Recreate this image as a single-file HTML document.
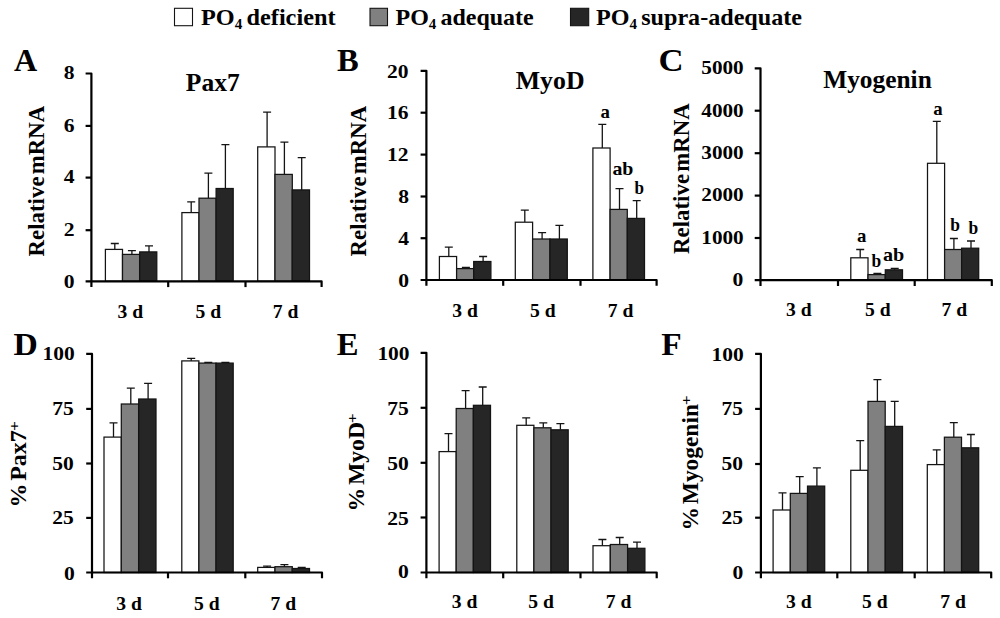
<!DOCTYPE html>
<html lang="en">
<head>
<meta charset="utf-8">
<title>Relative mRNA and percent positive cells: Pax7, MyoD, Myogenin</title>
<style>
html,body{margin:0;padding:0;background:#fff;}
body{width:1000px;height:618px;overflow:hidden;}
svg{display:block;}
svg text{font-family:"Liberation Serif", "DejaVu Serif", serif;font-weight:bold;fill:#000;}
</style>
</head>
<body>
<svg width="1000" height="618" viewBox="0 0 1000 618">
<rect width="1000" height="618" fill="#fff"/>
<rect x="174.5" y="8.3" width="18" height="17.4" fill="#fff" stroke="#141414" stroke-width="1.1"/>
<rect x="370.0" y="8.3" width="17.5" height="17.4" fill="#808080" stroke="#141414" stroke-width="1.1"/>
<rect x="570.5" y="8.3" width="18.2" height="17.4" fill="#262626" stroke="#141414" stroke-width="1.1"/>
<text x="201.0" y="24.8" font-size="24" textLength="134.5" lengthAdjust="spacingAndGlyphs" word-spacing="-1.8">PO<tspan font-size="15" dy="3.9">4</tspan><tspan dy="-3.9"> deficient</tspan></text>
<text x="395.5" y="24.8" font-size="24" textLength="138.2" lengthAdjust="spacingAndGlyphs" word-spacing="-1.8">PO<tspan font-size="15" dy="3.9">4</tspan><tspan dy="-3.9"> adequate</tspan></text>
<text x="596.0" y="24.8" font-size="24" textLength="206.0" lengthAdjust="spacingAndGlyphs" word-spacing="-1.8">PO<tspan font-size="15" dy="3.9">4</tspan><tspan dy="-3.9"> supra-adequate</tspan></text>
<text x="14.1" y="71.0" font-size="31.5" text-anchor="start" textLength="23.2" lengthAdjust="spacingAndGlyphs">A</text>
<text x="337.0" y="71.4" font-size="32" text-anchor="start" textLength="21.7" lengthAdjust="spacingAndGlyphs">B</text>
<text x="658.5" y="71.4" font-size="32" text-anchor="start" textLength="25.1" lengthAdjust="spacingAndGlyphs">C</text>
<text x="13.5" y="354.6" font-size="32" text-anchor="start" textLength="24.3" lengthAdjust="spacingAndGlyphs">D</text>
<text x="336.8" y="354.6" font-size="32" text-anchor="start" textLength="21.8" lengthAdjust="spacingAndGlyphs">E</text>
<text x="661.3" y="354.6" font-size="32" text-anchor="start" textLength="20.4" lengthAdjust="spacingAndGlyphs">F</text>
<text x="185.8" y="91.4" font-size="26" text-anchor="start" textLength="53.9" lengthAdjust="spacingAndGlyphs">Pax7</text>
<text x="515.8" y="89.1" font-size="26" text-anchor="start" textLength="68.7" lengthAdjust="spacingAndGlyphs">MyoD</text>
<text x="823.2" y="87.9" font-size="25.5" text-anchor="start" textLength="108.6" lengthAdjust="spacingAndGlyphs">Myogenin</text>
<path d="M114.8 249.4V243.5M110.8 243.5H118.8" stroke="#141414" stroke-width="1.3" fill="none"/>
<rect x="105.4" y="249.4" width="17.1" height="31.9" fill="#ffffff" stroke="#141414" stroke-width="1.25"/>
<path d="M131.9 254.4V250.6M127.9 250.6H135.9" stroke="#141414" stroke-width="1.3" fill="none"/>
<rect x="122.5" y="254.4" width="17.1" height="26.9" fill="#808080" stroke="#141414" stroke-width="1.25"/>
<path d="M149.0 251.9V245.9M145.0 245.9H153.0" stroke="#141414" stroke-width="1.3" fill="none"/>
<rect x="139.7" y="251.9" width="17.1" height="29.4" fill="#262626" stroke="#141414" stroke-width="1.25"/>
<path d="M191.2 212.6V201.8M187.2 201.8H195.2" stroke="#141414" stroke-width="1.3" fill="none"/>
<rect x="181.9" y="212.6" width="17.1" height="68.7" fill="#ffffff" stroke="#141414" stroke-width="1.25"/>
<path d="M208.4 198.2V173.2M204.4 173.2H212.4" stroke="#141414" stroke-width="1.3" fill="none"/>
<rect x="199.0" y="198.2" width="17.1" height="83.1" fill="#808080" stroke="#141414" stroke-width="1.25"/>
<path d="M225.4 188.5V144.6M221.4 144.6H229.4" stroke="#141414" stroke-width="1.3" fill="none"/>
<rect x="216.1" y="188.5" width="17.1" height="92.8" fill="#262626" stroke="#141414" stroke-width="1.25"/>
<path d="M267.1 146.9V112.2M263.1 112.2H271.1" stroke="#141414" stroke-width="1.3" fill="none"/>
<rect x="257.7" y="146.9" width="17.3" height="134.4" fill="#ffffff" stroke="#141414" stroke-width="1.25"/>
<path d="M284.4 174.4V142.1M280.4 142.1H288.4" stroke="#141414" stroke-width="1.3" fill="none"/>
<rect x="275.0" y="174.4" width="17.3" height="106.9" fill="#808080" stroke="#141414" stroke-width="1.25"/>
<path d="M301.7 189.9V157.7M297.7 157.7H305.7" stroke="#141414" stroke-width="1.3" fill="none"/>
<rect x="292.2" y="189.9" width="17.3" height="91.4" fill="#262626" stroke="#141414" stroke-width="1.25"/>
<text x="63.7" y="79.3" font-size="18" text-anchor="start" textLength="10.8" lengthAdjust="spacingAndGlyphs">8</text>
<text x="63.7" y="132.0" font-size="18" text-anchor="start" textLength="10.8" lengthAdjust="spacingAndGlyphs">6</text>
<text x="63.7" y="183.4" font-size="18" text-anchor="start" textLength="10.8" lengthAdjust="spacingAndGlyphs">4</text>
<text x="63.7" y="236.3" font-size="18" text-anchor="start" textLength="10.8" lengthAdjust="spacingAndGlyphs">2</text>
<text x="63.7" y="288.0" font-size="18" text-anchor="start" textLength="10.8" lengthAdjust="spacingAndGlyphs">0</text>
<text x="117.6" y="318.3" font-size="18" text-anchor="start" textLength="25.6" lengthAdjust="spacingAndGlyphs">3 d</text>
<text x="195.6" y="318.3" font-size="18" text-anchor="start" textLength="25.6" lengthAdjust="spacingAndGlyphs">5 d</text>
<text x="272.7" y="318.3" font-size="18" text-anchor="start" textLength="25.6" lengthAdjust="spacingAndGlyphs">7 d</text>
<path d="M448.8 256.5V247.2M444.8 247.2H452.8" stroke="#141414" stroke-width="1.3" fill="none"/>
<rect x="439.4" y="256.5" width="17.2" height="23.5" fill="#ffffff" stroke="#141414" stroke-width="1.25"/>
<path d="M465.9 268.6V267.3M461.9 267.3H469.9" stroke="#141414" stroke-width="1.3" fill="none"/>
<rect x="456.6" y="268.6" width="17.2" height="11.4" fill="#808080" stroke="#141414" stroke-width="1.25"/>
<path d="M483.1 261.5V256.5M479.1 256.5H487.1" stroke="#141414" stroke-width="1.3" fill="none"/>
<rect x="473.7" y="261.5" width="17.2" height="18.5" fill="#262626" stroke="#141414" stroke-width="1.25"/>
<path d="M524.8 222.2V210.1M520.8 210.1H528.8" stroke="#141414" stroke-width="1.3" fill="none"/>
<rect x="515.3" y="222.2" width="17.3" height="57.8" fill="#ffffff" stroke="#141414" stroke-width="1.25"/>
<path d="M542.1 239.0V232.7M538.1 232.7H546.1" stroke="#141414" stroke-width="1.3" fill="none"/>
<rect x="532.6" y="239.0" width="17.3" height="41.0" fill="#808080" stroke="#141414" stroke-width="1.25"/>
<path d="M559.4 239.0V225.4M555.4 225.4H563.4" stroke="#141414" stroke-width="1.3" fill="none"/>
<rect x="550.0" y="239.0" width="17.3" height="41.0" fill="#262626" stroke="#141414" stroke-width="1.25"/>
<path d="M602.3 148.0V124.3M598.3 124.3H606.3" stroke="#141414" stroke-width="1.3" fill="none"/>
<rect x="592.9" y="148.0" width="17.2" height="132.0" fill="#ffffff" stroke="#141414" stroke-width="1.25"/>
<path d="M619.5 209.4V188.6M615.5 188.6H623.5" stroke="#141414" stroke-width="1.3" fill="none"/>
<rect x="610.1" y="209.4" width="17.2" height="70.6" fill="#808080" stroke="#141414" stroke-width="1.25"/>
<path d="M636.7 218.4V200.6M632.7 200.6H640.7" stroke="#141414" stroke-width="1.3" fill="none"/>
<rect x="627.3" y="218.4" width="17.2" height="61.6" fill="#262626" stroke="#141414" stroke-width="1.25"/>
<text x="387.1" y="77.5" font-size="18" text-anchor="start" textLength="21.5" lengthAdjust="spacingAndGlyphs">20</text>
<text x="387.1" y="119.4" font-size="18" text-anchor="start" textLength="21.5" lengthAdjust="spacingAndGlyphs">16</text>
<text x="387.1" y="161.3" font-size="18" text-anchor="start" textLength="21.5" lengthAdjust="spacingAndGlyphs">12</text>
<text x="398.2" y="203.2" font-size="18" text-anchor="start" textLength="10.8" lengthAdjust="spacingAndGlyphs">8</text>
<text x="398.2" y="244.9" font-size="18" text-anchor="start" textLength="10.8" lengthAdjust="spacingAndGlyphs">4</text>
<text x="398.2" y="286.7" font-size="18" text-anchor="start" textLength="10.8" lengthAdjust="spacingAndGlyphs">0</text>
<text x="452.3" y="316.8" font-size="18" text-anchor="start" textLength="25.6" lengthAdjust="spacingAndGlyphs">3 d</text>
<text x="530.1" y="316.8" font-size="18" text-anchor="start" textLength="25.6" lengthAdjust="spacingAndGlyphs">5 d</text>
<text x="607.8" y="316.8" font-size="18" text-anchor="start" textLength="25.6" lengthAdjust="spacingAndGlyphs">7 d</text>
<text x="600.5" y="117.8" font-size="19" text-anchor="start" textLength="9.4" lengthAdjust="spacingAndGlyphs">a</text>
<text x="612.4" y="174.5" font-size="19" text-anchor="start" textLength="21.0" lengthAdjust="spacingAndGlyphs">ab</text>
<text x="634.4" y="193.6" font-size="19" text-anchor="start" textLength="9.5" lengthAdjust="spacingAndGlyphs">b</text>
<path d="M860.2 257.8V249.5M856.2 249.5H864.2" stroke="#141414" stroke-width="1.3" fill="none"/>
<rect x="850.8" y="257.8" width="17.2" height="22.4" fill="#ffffff" stroke="#141414" stroke-width="1.25"/>
<path d="M877.4 274.6V273.4M873.4 273.4H881.4" stroke="#141414" stroke-width="1.3" fill="none"/>
<rect x="868.0" y="274.6" width="17.2" height="5.6" fill="#808080" stroke="#141414" stroke-width="1.25"/>
<path d="M894.7 269.8V268.4M890.7 268.4H898.7" stroke="#141414" stroke-width="1.3" fill="none"/>
<rect x="885.3" y="269.8" width="17.2" height="10.4" fill="#262626" stroke="#141414" stroke-width="1.25"/>
<path d="M936.8 163.3V121.4M932.8 121.4H940.8" stroke="#141414" stroke-width="1.3" fill="none"/>
<rect x="927.5" y="163.3" width="17.1" height="116.9" fill="#ffffff" stroke="#141414" stroke-width="1.25"/>
<path d="M953.9 249.5V238.5M949.9 238.5H957.9" stroke="#141414" stroke-width="1.3" fill="none"/>
<rect x="944.6" y="249.5" width="17.1" height="30.7" fill="#808080" stroke="#141414" stroke-width="1.25"/>
<path d="M971.0 248.2V241.0M967.0 241.0H975.0" stroke="#141414" stroke-width="1.3" fill="none"/>
<rect x="961.6" y="248.2" width="17.1" height="32.0" fill="#262626" stroke="#141414" stroke-width="1.25"/>
<text x="701.3" y="74.1" font-size="18" text-anchor="start" textLength="42.4" lengthAdjust="spacingAndGlyphs">5000</text>
<text x="701.3" y="116.5" font-size="18" text-anchor="start" textLength="42.4" lengthAdjust="spacingAndGlyphs">4000</text>
<text x="701.3" y="159.0" font-size="18" text-anchor="start" textLength="42.4" lengthAdjust="spacingAndGlyphs">3000</text>
<text x="701.3" y="201.4" font-size="18" text-anchor="start" textLength="42.4" lengthAdjust="spacingAndGlyphs">2000</text>
<text x="701.3" y="243.8" font-size="18" text-anchor="start" textLength="42.4" lengthAdjust="spacingAndGlyphs">1000</text>
<text x="732.6" y="286.0" font-size="18" text-anchor="start" textLength="10.8" lengthAdjust="spacingAndGlyphs">0</text>
<text x="786.1" y="316.4" font-size="18" text-anchor="start" textLength="25.6" lengthAdjust="spacingAndGlyphs">3 d</text>
<text x="865.1" y="316.4" font-size="18" text-anchor="start" textLength="25.6" lengthAdjust="spacingAndGlyphs">5 d</text>
<text x="941.6" y="316.4" font-size="18" text-anchor="start" textLength="25.6" lengthAdjust="spacingAndGlyphs">7 d</text>
<text x="933.3" y="114.6" font-size="19" text-anchor="start" textLength="9.4" lengthAdjust="spacingAndGlyphs">a</text>
<text x="856.9" y="241.5" font-size="19" text-anchor="start" textLength="9.4" lengthAdjust="spacingAndGlyphs">a</text>
<text x="871.6" y="267.0" font-size="19" text-anchor="start" textLength="9.7" lengthAdjust="spacingAndGlyphs">b</text>
<text x="882.9" y="260.8" font-size="19" text-anchor="start" textLength="21.3" lengthAdjust="spacingAndGlyphs">ab</text>
<text x="950.3" y="230.7" font-size="19" text-anchor="start" textLength="9.7" lengthAdjust="spacingAndGlyphs">b</text>
<text x="968.4" y="234.0" font-size="19" text-anchor="start" textLength="9.7" lengthAdjust="spacingAndGlyphs">b</text>
<path d="M113.5 437.1V422.8M109.5 422.8H117.5" stroke="#141414" stroke-width="1.3" fill="none"/>
<rect x="104.0" y="437.1" width="17.3" height="135.4" fill="#ffffff" stroke="#141414" stroke-width="1.25"/>
<path d="M130.8 404.0V388.2M126.8 388.2H134.8" stroke="#141414" stroke-width="1.3" fill="none"/>
<rect x="121.3" y="404.0" width="17.3" height="168.5" fill="#808080" stroke="#141414" stroke-width="1.25"/>
<path d="M148.1 399.0V383.4M144.1 383.4H152.1" stroke="#141414" stroke-width="1.3" fill="none"/>
<rect x="138.7" y="399.0" width="17.3" height="173.5" fill="#262626" stroke="#141414" stroke-width="1.25"/>
<path d="M191.2 360.9V358.4M187.2 358.4H195.2" stroke="#141414" stroke-width="1.3" fill="none"/>
<rect x="181.8" y="360.9" width="17.1" height="211.6" fill="#ffffff" stroke="#141414" stroke-width="1.25"/>
<path d="M208.3 363.1V362.3M204.3 362.3H212.3" stroke="#141414" stroke-width="1.3" fill="none"/>
<rect x="198.9" y="363.1" width="17.1" height="209.4" fill="#808080" stroke="#141414" stroke-width="1.25"/>
<path d="M225.4 363.1V362.3M221.4 362.3H229.4" stroke="#141414" stroke-width="1.3" fill="none"/>
<rect x="216.1" y="363.1" width="17.1" height="209.4" fill="#262626" stroke="#141414" stroke-width="1.25"/>
<path d="M267.1 567.4V566.2M263.1 566.2H271.1" stroke="#141414" stroke-width="1.3" fill="none"/>
<rect x="257.7" y="567.4" width="17.3" height="5.1" fill="#ffffff" stroke="#141414" stroke-width="1.25"/>
<path d="M284.4 566.7V564.7M280.4 564.7H288.4" stroke="#141414" stroke-width="1.3" fill="none"/>
<rect x="275.0" y="566.7" width="17.3" height="5.8" fill="#808080" stroke="#141414" stroke-width="1.25"/>
<path d="M301.7 568.5V567.4M297.7 567.4H305.7" stroke="#141414" stroke-width="1.3" fill="none"/>
<rect x="292.2" y="568.5" width="17.3" height="4.0" fill="#262626" stroke="#141414" stroke-width="1.25"/>
<text x="42.5" y="360.1" font-size="18" text-anchor="start" textLength="32.2" lengthAdjust="spacingAndGlyphs">100</text>
<text x="52.2" y="415.1" font-size="18" text-anchor="start" textLength="21.5" lengthAdjust="spacingAndGlyphs">75</text>
<text x="52.2" y="469.7" font-size="18" text-anchor="start" textLength="21.5" lengthAdjust="spacingAndGlyphs">50</text>
<text x="52.2" y="524.1" font-size="18" text-anchor="start" textLength="21.5" lengthAdjust="spacingAndGlyphs">25</text>
<text x="63.9" y="579.7" font-size="18" text-anchor="start" textLength="10.8" lengthAdjust="spacingAndGlyphs">0</text>
<text x="116.3" y="610.0" font-size="18" text-anchor="start" textLength="25.6" lengthAdjust="spacingAndGlyphs">3 d</text>
<text x="194.1" y="610.0" font-size="18" text-anchor="start" textLength="25.6" lengthAdjust="spacingAndGlyphs">5 d</text>
<text x="270.6" y="610.0" font-size="18" text-anchor="start" textLength="25.6" lengthAdjust="spacingAndGlyphs">7 d</text>
<path d="M448.5 451.6V433.6M444.5 433.6H452.5" stroke="#141414" stroke-width="1.3" fill="none"/>
<rect x="439.1" y="451.6" width="17.1" height="120.9" fill="#ffffff" stroke="#141414" stroke-width="1.25"/>
<path d="M465.6 408.5V390.7M461.6 390.7H469.6" stroke="#141414" stroke-width="1.3" fill="none"/>
<rect x="456.2" y="408.5" width="17.1" height="164.0" fill="#808080" stroke="#141414" stroke-width="1.25"/>
<path d="M482.7 405.3V387.0M478.7 387.0H486.7" stroke="#141414" stroke-width="1.3" fill="none"/>
<rect x="473.4" y="405.3" width="17.1" height="167.2" fill="#262626" stroke="#141414" stroke-width="1.25"/>
<path d="M526.2 425.3V417.8M522.2 417.8H530.2" stroke="#141414" stroke-width="1.3" fill="none"/>
<rect x="516.8" y="425.3" width="17.1" height="147.2" fill="#ffffff" stroke="#141414" stroke-width="1.25"/>
<path d="M543.3 427.8V422.8M539.3 422.8H547.3" stroke="#141414" stroke-width="1.3" fill="none"/>
<rect x="533.9" y="427.8" width="17.1" height="144.7" fill="#808080" stroke="#141414" stroke-width="1.25"/>
<path d="M560.4 429.8V423.6M556.4 423.6H564.4" stroke="#141414" stroke-width="1.3" fill="none"/>
<rect x="551.1" y="429.8" width="17.1" height="142.7" fill="#262626" stroke="#141414" stroke-width="1.25"/>
<path d="M602.4 545.7V539.5M598.4 539.5H606.4" stroke="#141414" stroke-width="1.3" fill="none"/>
<rect x="593.0" y="545.7" width="17.3" height="26.8" fill="#ffffff" stroke="#141414" stroke-width="1.25"/>
<path d="M619.7 544.5V537.5M615.7 537.5H623.7" stroke="#141414" stroke-width="1.3" fill="none"/>
<rect x="610.3" y="544.5" width="17.3" height="28.0" fill="#808080" stroke="#141414" stroke-width="1.25"/>
<path d="M637.0 548.3V542.2M633.0 542.2H641.0" stroke="#141414" stroke-width="1.3" fill="none"/>
<rect x="627.6" y="548.3" width="17.3" height="24.2" fill="#262626" stroke="#141414" stroke-width="1.25"/>
<text x="377.4" y="359.8" font-size="18" text-anchor="start" textLength="32.2" lengthAdjust="spacingAndGlyphs">100</text>
<text x="387.2" y="414.8" font-size="18" text-anchor="start" textLength="21.5" lengthAdjust="spacingAndGlyphs">75</text>
<text x="387.2" y="469.8" font-size="18" text-anchor="start" textLength="21.5" lengthAdjust="spacingAndGlyphs">50</text>
<text x="387.2" y="524.5" font-size="18" text-anchor="start" textLength="21.5" lengthAdjust="spacingAndGlyphs">25</text>
<text x="398.1" y="578.3" font-size="18" text-anchor="start" textLength="10.8" lengthAdjust="spacingAndGlyphs">0</text>
<text x="451.8" y="608.2" font-size="18" text-anchor="start" textLength="25.6" lengthAdjust="spacingAndGlyphs">3 d</text>
<text x="528.3" y="608.2" font-size="18" text-anchor="start" textLength="25.6" lengthAdjust="spacingAndGlyphs">5 d</text>
<text x="605.8" y="608.2" font-size="18" text-anchor="start" textLength="25.6" lengthAdjust="spacingAndGlyphs">7 d</text>
<path d="M782.5 510.0V492.9M778.5 492.9H786.5" stroke="#141414" stroke-width="1.3" fill="none"/>
<rect x="773.1" y="510.0" width="17.2" height="62.5" fill="#ffffff" stroke="#141414" stroke-width="1.25"/>
<path d="M799.7 493.4V476.6M795.7 476.6H803.7" stroke="#141414" stroke-width="1.3" fill="none"/>
<rect x="790.3" y="493.4" width="17.2" height="79.1" fill="#808080" stroke="#141414" stroke-width="1.25"/>
<path d="M816.9 486.1V467.8M812.9 467.8H820.9" stroke="#141414" stroke-width="1.3" fill="none"/>
<rect x="807.5" y="486.1" width="17.2" height="86.4" fill="#262626" stroke="#141414" stroke-width="1.25"/>
<path d="M860.2 470.3V440.7M856.2 440.7H864.2" stroke="#141414" stroke-width="1.3" fill="none"/>
<rect x="850.8" y="470.3" width="17.2" height="102.2" fill="#ffffff" stroke="#141414" stroke-width="1.25"/>
<path d="M877.4 401.4V379.6M873.4 379.6H881.4" stroke="#141414" stroke-width="1.3" fill="none"/>
<rect x="868.0" y="401.4" width="17.2" height="171.1" fill="#808080" stroke="#141414" stroke-width="1.25"/>
<path d="M894.7 426.4V401.4M890.7 401.4H898.7" stroke="#141414" stroke-width="1.3" fill="none"/>
<rect x="885.3" y="426.4" width="17.2" height="146.1" fill="#262626" stroke="#141414" stroke-width="1.25"/>
<path d="M936.7 464.6V449.8M932.7 449.8H940.7" stroke="#141414" stroke-width="1.3" fill="none"/>
<rect x="927.3" y="464.6" width="17.1" height="107.9" fill="#ffffff" stroke="#141414" stroke-width="1.25"/>
<path d="M953.8 437.2V422.7M949.8 422.7H957.8" stroke="#141414" stroke-width="1.3" fill="none"/>
<rect x="944.4" y="437.2" width="17.1" height="135.3" fill="#808080" stroke="#141414" stroke-width="1.25"/>
<path d="M970.9 447.8V434.5M966.9 434.5H974.9" stroke="#141414" stroke-width="1.3" fill="none"/>
<rect x="961.6" y="447.8" width="17.1" height="124.7" fill="#262626" stroke="#141414" stroke-width="1.25"/>
<text x="711.6" y="361.1" font-size="18" text-anchor="start" textLength="32.2" lengthAdjust="spacingAndGlyphs">100</text>
<text x="721.4" y="414.9" font-size="18" text-anchor="start" textLength="21.5" lengthAdjust="spacingAndGlyphs">75</text>
<text x="721.4" y="469.6" font-size="18" text-anchor="start" textLength="21.5" lengthAdjust="spacingAndGlyphs">50</text>
<text x="721.4" y="523.6" font-size="18" text-anchor="start" textLength="21.5" lengthAdjust="spacingAndGlyphs">25</text>
<text x="732.4" y="578.5" font-size="18" text-anchor="start" textLength="10.8" lengthAdjust="spacingAndGlyphs">0</text>
<text x="786.1" y="608.2" font-size="18" text-anchor="start" textLength="25.6" lengthAdjust="spacingAndGlyphs">3 d</text>
<text x="862.1" y="608.2" font-size="18" text-anchor="start" textLength="25.6" lengthAdjust="spacingAndGlyphs">5 d</text>
<text x="940.3" y="608.2" font-size="18" text-anchor="start" textLength="25.6" lengthAdjust="spacingAndGlyphs">7 d</text>
<path d="M85.6 73.5H91.4V287.1" stroke="#000" stroke-width="2.2" fill="none" stroke-linejoin="round"/>
<path d="M85.6 281.3H321.6V287.1" stroke="#000" stroke-width="2.2" fill="none" stroke-linejoin="round"/>
<path d="M168.2 281.3V287.1" stroke="#000" stroke-width="2.2" fill="none"/>
<path d="M245.5 281.3V287.1" stroke="#000" stroke-width="2.2" fill="none"/>
<path d="M85.6 125.9H91.4" stroke="#000" stroke-width="2.2" fill="none"/>
<path d="M85.6 177.6H91.4" stroke="#000" stroke-width="2.2" fill="none"/>
<path d="M85.6 230.2H91.4" stroke="#000" stroke-width="2.2" fill="none"/>
<path d="M420.6 70.8H426.4V285.8" stroke="#000" stroke-width="2.2" fill="none" stroke-linejoin="round"/>
<path d="M420.6 280.0H656.6V285.8" stroke="#000" stroke-width="2.2" fill="none" stroke-linejoin="round"/>
<path d="M503.2 280.0V285.8" stroke="#000" stroke-width="2.2" fill="none"/>
<path d="M580.5 280.0V285.8" stroke="#000" stroke-width="2.2" fill="none"/>
<path d="M420.6 112.7H426.4" stroke="#000" stroke-width="2.2" fill="none"/>
<path d="M420.6 154.6H426.4" stroke="#000" stroke-width="2.2" fill="none"/>
<path d="M420.6 196.5H426.4" stroke="#000" stroke-width="2.2" fill="none"/>
<path d="M420.6 238.2H426.4" stroke="#000" stroke-width="2.2" fill="none"/>
<path d="M754.7 68.3H760.5V286.0" stroke="#000" stroke-width="2.2" fill="none" stroke-linejoin="round"/>
<path d="M754.7 280.2H991.8V286.0" stroke="#000" stroke-width="2.2" fill="none" stroke-linejoin="round"/>
<path d="M838.0 280.2V286.0" stroke="#000" stroke-width="2.2" fill="none"/>
<path d="M914.7 280.2V286.0" stroke="#000" stroke-width="2.2" fill="none"/>
<path d="M754.7 110.7H760.5" stroke="#000" stroke-width="2.2" fill="none"/>
<path d="M754.7 153.2H760.5" stroke="#000" stroke-width="2.2" fill="none"/>
<path d="M754.7 195.6H760.5" stroke="#000" stroke-width="2.2" fill="none"/>
<path d="M754.7 238.0H760.5" stroke="#000" stroke-width="2.2" fill="none"/>
<path d="M86.2 353.9H92.0V578.3" stroke="#000" stroke-width="2.2" fill="none" stroke-linejoin="round"/>
<path d="M86.2 572.5H322.0V578.3" stroke="#000" stroke-width="2.2" fill="none" stroke-linejoin="round"/>
<path d="M168.0 572.5V578.3" stroke="#000" stroke-width="2.2" fill="none"/>
<path d="M245.3 572.5V578.3" stroke="#000" stroke-width="2.2" fill="none"/>
<path d="M86.2 408.9H92.0" stroke="#000" stroke-width="2.2" fill="none"/>
<path d="M86.2 463.5H92.0" stroke="#000" stroke-width="2.2" fill="none"/>
<path d="M86.2 517.9H92.0" stroke="#000" stroke-width="2.2" fill="none"/>
<path d="M420.6 352.8H426.4V578.3" stroke="#000" stroke-width="2.2" fill="none" stroke-linejoin="round"/>
<path d="M420.6 572.5H656.7V578.3" stroke="#000" stroke-width="2.2" fill="none" stroke-linejoin="round"/>
<path d="M503.2 572.5V578.3" stroke="#000" stroke-width="2.2" fill="none"/>
<path d="M580.5 572.5V578.3" stroke="#000" stroke-width="2.2" fill="none"/>
<path d="M420.6 407.8H426.4" stroke="#000" stroke-width="2.2" fill="none"/>
<path d="M420.6 462.8H426.4" stroke="#000" stroke-width="2.2" fill="none"/>
<path d="M420.6 517.5H426.4" stroke="#000" stroke-width="2.2" fill="none"/>
<path d="M755.1 353.9H760.9V578.3" stroke="#000" stroke-width="2.2" fill="none" stroke-linejoin="round"/>
<path d="M755.1 572.5H991.2V578.3" stroke="#000" stroke-width="2.2" fill="none" stroke-linejoin="round"/>
<path d="M837.3 572.5V578.3" stroke="#000" stroke-width="2.2" fill="none"/>
<path d="M914.7 572.5V578.3" stroke="#000" stroke-width="2.2" fill="none"/>
<path d="M755.1 408.9H760.9" stroke="#000" stroke-width="2.2" fill="none"/>
<path d="M755.1 464.0H760.9" stroke="#000" stroke-width="2.2" fill="none"/>
<path d="M755.1 517.7H760.9" stroke="#000" stroke-width="2.2" fill="none"/>
<text transform="translate(43.6 256.4) rotate(-90)" font-size="23" textLength="150.6" lengthAdjust="spacingAndGlyphs" word-spacing="-3.6">Relative mRNA</text>
<text transform="translate(366.2 256.4) rotate(-90)" font-size="23" textLength="150.6" lengthAdjust="spacingAndGlyphs" word-spacing="-3.6">Relative mRNA</text>
<text transform="translate(688.6 253.9) rotate(-90)" font-size="23" textLength="150.6" lengthAdjust="spacingAndGlyphs" word-spacing="-3.6">Relative mRNA</text>
<text transform="translate(25.9 507.6) rotate(-90)" font-size="22.5" textLength="77.4" lengthAdjust="spacingAndGlyphs" word-spacing="-3">% Pax7</text>
<text transform="translate(18.6 431.0) rotate(-90)" font-size="15" textLength="9.8" lengthAdjust="spacingAndGlyphs">+</text>
<text transform="translate(364.2 511.5) rotate(-90)" font-size="22.5" textLength="89.5" lengthAdjust="spacingAndGlyphs" word-spacing="-3">% MyoD</text>
<text transform="translate(356.8 423.2) rotate(-90)" font-size="15" textLength="9.8" lengthAdjust="spacingAndGlyphs">+</text>
<text transform="translate(697.7 530.4) rotate(-90)" font-size="23" textLength="126.3" lengthAdjust="spacingAndGlyphs" word-spacing="-3">% Myogenin</text>
<text transform="translate(691.0 405.2) rotate(-90)" font-size="15" textLength="9.8" lengthAdjust="spacingAndGlyphs">+</text>
</svg>
</body>
</html>
